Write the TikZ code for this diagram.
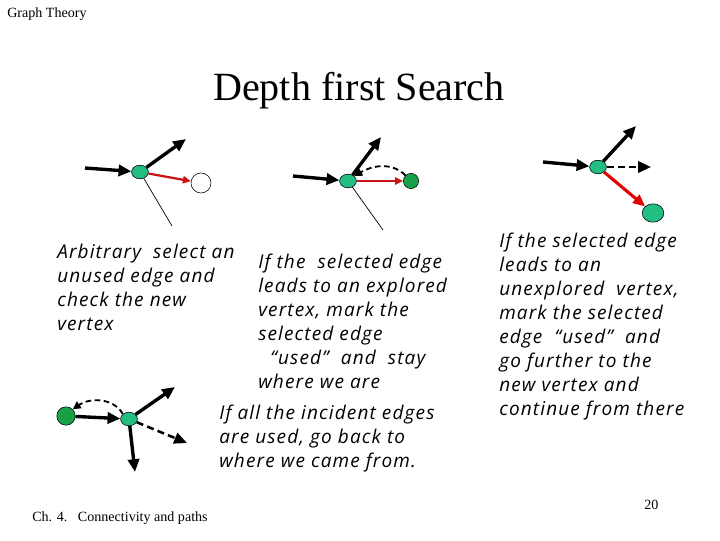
\documentclass[tikz,border=0pt]{standalone}
\usepackage{fontspec}
\setmainfont{Liberation Serif}
\newfontfamily\notefont[LetterSpace=6]{Open Sans}
\usepackage{xcolor}
\usetikzlibrary{positioning,arrows.meta,shapes.geometric}

\definecolor{vlight}{RGB}{34,190,130}
\definecolor{vdark}{RGB}{24,160,72}
\definecolor{edgered}{RGB}{200,20,20}

\begin{document}
\begin{tikzpicture}[x=0.025cm, y=-0.025cm, >={Triangle[length=3.2mm,width=2.8mm]},
  seen/.style = {ellipse, draw, fill=vlight, minimum width=4.2mm, minimum height=3.4mm, inner sep=0pt},
  done/.style = {circle, draw, fill=vdark, minimum size=4.2mm, inner sep=0pt},
  fresh/.style = {circle, draw, fill=white, minimum size=5mm, inner sep=0pt},
  used/.style = {->, line width=2.4pt},
  try/.style = {->, line width=1.8pt, dash pattern=on 5pt off 3pt},
  back/.style = {-{Triangle[length=2mm,width=2mm]}, line width=1.3pt, dash pattern=on 4pt off 2.5pt},
  pick/.style = {-{Triangle[length=2mm,width=1.8mm]}, line width=1.6pt, draw=edgered, color=edgered},
  pin/.style = {-, line width=0.5pt},
  note/.style = {anchor=north west, align=left, inner sep=0pt, font=\notefont\itshape\fontsize{13.5}{17}\selectfont},
  small/.style = {inner sep=0pt, font=\fontsize{10}{12}\selectfont}]

\useasboundingbox (0,0) rectangle (720,540);

\node[small, anchor=base west] (hdr) at (7,17) {Graph Theory};
\node[anchor=base, inner sep=0pt, font=\fontsize{28.5}{34}\selectfont] (title) at (359,100) {Depth first Search};

% step 1: pick an unused edge
\node[seen] (u1) at (140,172) {};
\node[fresh] (v1) at (201,183) {};
\coordinate (p1) at (85,168);
\coordinate (q1) at (186,139);
\coordinate (t1) at (172,226);

% step 2: edge back to an explored vertex
\node[seen] (u2) at (348,181) {};
\node[done, minimum size=3.8mm] (v2) at (411,181) {};
\coordinate (p2) at (293,176);
\coordinate (q2) at (381,137);
\coordinate (t2) at (383,230);

% step 3: edge to an unexplored vertex
\node[seen] (u3) at (598,167) {};
\node[seen, minimum width=5.4mm, minimum height=4.6mm] (v3) at (653,213) {};
\coordinate (p3) at (543,162);
\coordinate (q3) at (636,126);
\coordinate (r3) at (651,167);

% step 4: go back
\node[done, minimum size=4.6mm] (w4) at (66,416) {};
\node[seen] (u4) at (129,419) {};
\coordinate (q4) at (175,387);
\coordinate (r4) at (187,443);
\coordinate (s4) at (135,472);

\path
    (p1) edge[used] (u1)
    (u1) edge[used] (q1)
    (u1) edge[pick] (v1)
    (u1) edge[pin] (t1)
    (p2) edge[used] (u2)
    (u2) edge[used] (q2)
    (u2) edge[pick] (v2)
    (u2) edge[pin] (t2)
    (v2.north west) edge[back, out=135, in=30] (u2.north east)
    (p3) edge[used] (u3)
    (u3) edge[used] (q3)
    (u3) edge[try] (r3)
    (u3) edge[pick, line width=2.2pt, -{Triangle[length=3mm,width=2.6mm]}, draw=red!90!black, color=red!90!black] (v3)
    (w4) edge[used] (u4)
    (u4) edge[used] (q4)
    (u4) edge[try] (r4)
    (u4) edge[used] (s4)
    (u4.north west) edge[back, out=120, in=35] (w4.north east);

\node[note] (n1) at (57,244) {Arbitrary\ \ select an\\unused edge and\\check the new\\vertex};
\node[note] (n2) at (258,254) {If the\ \ selected edge\\leads to an explored\\vertex, mark the\\selected edge\\\ \ “used”\ \ and\ \ stay\\where we are};
\node[note] (n3) at (219,405) {If all the incident edges\\are used, go back to\\where we came from.};
\node[note] (n4) at (499,233) {If the selected edge\\leads to an\\unexplored\ \ vertex,\\mark the selected\\edge\ \ “used”\ \ and\\go further to the\\new vertex and\\continue from there};

\node[small, anchor=base west] (ftr) at (32,521) {Ch. 4.\ \ \ Connectivity and paths};
\node[small, anchor=base west] (pg) at (644,509) {20};
\end{tikzpicture}
\end{document}
